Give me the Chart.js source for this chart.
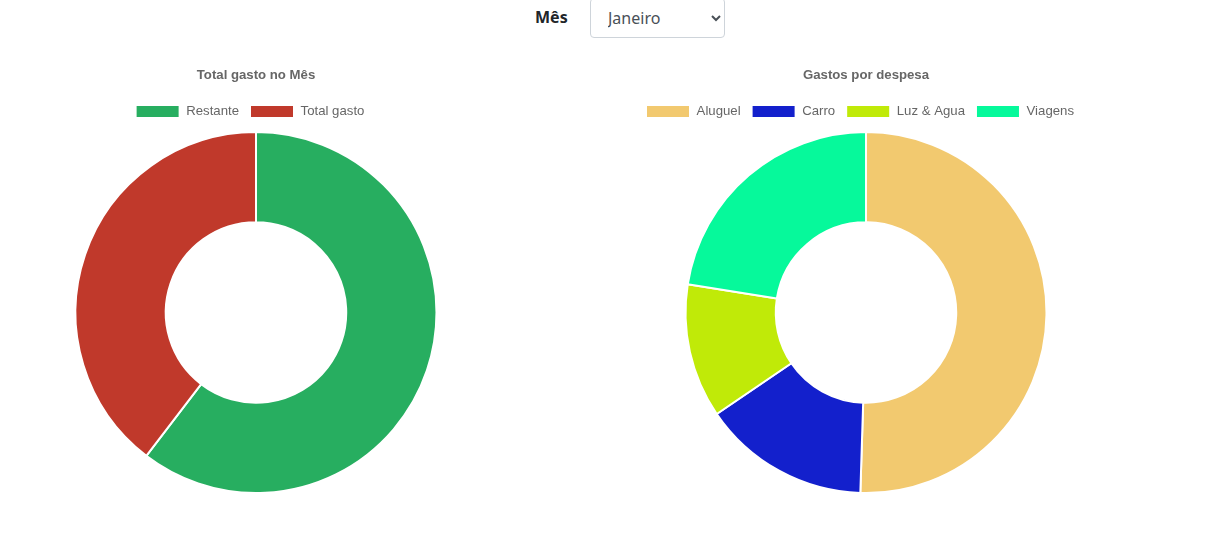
<!DOCTYPE html>
<html><head><meta charset="utf-8">
<script src="https://cdn.jsdelivr.net/npm/chart.js@4"></script>
<style>
html,body{margin:0;padding:0;background:#fff;width:1229px;height:537px;overflow:hidden;font-family:"Open Sans","Noto Sans",sans-serif;}
#top{position:absolute;left:0;top:0;width:1229px;height:40px;}
#lbl{position:absolute;left:535px;top:6px;font-weight:bold;font-size:16px;color:#212529;font-family:"Noto Sans","Open Sans",sans-serif;}
#sel{position:absolute;left:590px;top:-2px;width:135px;height:40px;box-sizing:border-box;border:1px solid #ced4da;border-radius:4px;font-size:16px;color:#495057;padding:0 0 0 13px;background:#fff;font-family:"Noto Sans","Open Sans",sans-serif;}
.c{position:absolute;top:56px;height:438px;width:512px;}
</style></head><body>
<div id="top"><span id="lbl">Mês</span><select id="sel"><option>Janeiro</option></select></div>
<div class="c" style="left:0px"><canvas id="c1"></canvas></div>
<div class="c" style="left:610px"><canvas id="c2"></canvas></div>
<script>
const totalLabels = ["Restante", "Total gasto"];
const totalValues = [3050, 2000];
const totalColors = ["#27ae60", "#c0392b"];
const despLabels = ["Aluguel", "Carro", "Luz & Agua", "Viagens"];
const despValues = [1010, 300, 240, 450];
const despColors = ["#f2c96f", "#1320cc", "#c0ea08", "#06f99b"];

Chart.defaults.font.family = "'Liberation Sans', Arial, sans-serif";
Chart.defaults.font.size = 13.2;
Chart.defaults.color = "#666";

const legendShift = {
  id: 'legendShift',
  afterInit(chart){
    const lg = chart.legend;
    if (lg){
      const origFit = lg.fit.bind(lg);
      lg.fit = function(){ origFit(); this.height += 3; };
    }
  },
  afterLayout(chart){
    if (chart.legend){ chart.legend.left -= 6; chart.legend.right -= 6; }
  }
};

function mk(id, title, labels, values, colors){
  new Chart(document.getElementById(id), {
    type: 'doughnut',
    data: {labels: labels, datasets: [{data: values, backgroundColor: colors, borderColor: '#fff', borderWidth: 2}]},
    options: {
      responsive: true, maintainAspectRatio: false, animation: false,
      cutout: '50%',
      plugins: {
        title: {display: true, text: title, font: {size: 13.2, weight: 'bold'}, color: '#666', padding: 11},
        legend: {position: 'top', labels: {boxWidth: 44, boxHeight: 13, padding: 11, color: '#666', font: {size: 13.2}}},
        tooltip: {enabled: false}
      }
    },
    plugins: [legendShift]
  });
}
mk('c1', 'Total gasto no Mês', totalLabels, totalValues, totalColors);
mk('c2', 'Gastos por despesa', despLabels, despValues, despColors);
</script>
</body></html>
